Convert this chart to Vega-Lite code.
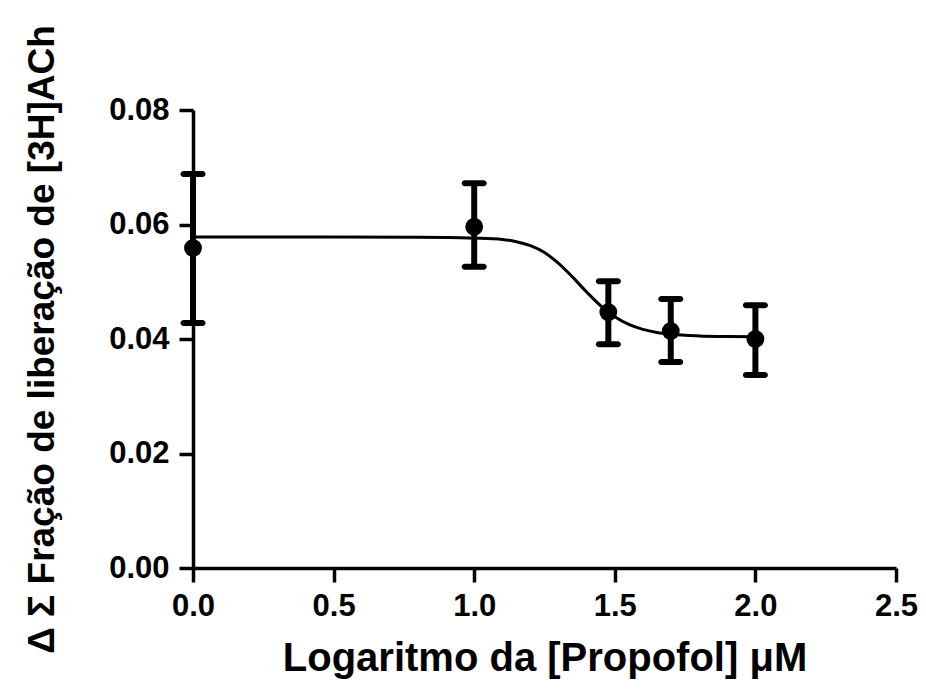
{
  "$schema": "https://vega.github.io/schema/vega-lite/v6.json",
  "width": 703,
  "height": 458,
  "autosize": {"type": "none"},
  "padding": {"left": 193, "top": 110, "right": 30, "bottom": 121},
  "background": "white",
  "config": {
    "view": {"stroke": null},
    "axis": {
      "grid": false,
      "labelFlush": false,
      "domainColor": "black",
      "domainWidth": 3.5,
      "tickColor": "black",
      "tickWidth": 3.5,
      "tickSize": 14,
      "labelFont": "Liberation Sans",
      "labelFontWeight": "bold",
      "labelFontSize": 31,
      "labelColor": "black",
      "titleFont": "Liberation Sans",
      "titleFontWeight": "bold",
      "titleFontSize": 37,
      "titleColor": "black"
    }
  },
  "datasets": {
    "points": [
      {"x": 0.0, "mean": 0.0559, "lo": 0.0428, "hi": 0.0688},
      {"x": 1.0, "mean": 0.0596, "lo": 0.0526, "hi": 0.0672},
      {"x": 1.477, "mean": 0.0447, "lo": 0.0391, "hi": 0.0501},
      {"x": 1.699, "mean": 0.0414, "lo": 0.0360, "hi": 0.0470},
      {"x": 2.0, "mean": 0.0400, "lo": 0.0337, "hi": 0.0459}
    ],
    "curve": [
      {"x": 0.0, "y": 0.0578},
      {"x": 0.5, "y": 0.0578},
      {"x": 0.8, "y": 0.05778},
      {"x": 1.0, "y": 0.05762},
      {"x": 1.1, "y": 0.0574},
      {"x": 1.15, "y": 0.0570},
      {"x": 1.2, "y": 0.0563},
      {"x": 1.25, "y": 0.0551},
      {"x": 1.3, "y": 0.0532},
      {"x": 1.35, "y": 0.0508},
      {"x": 1.4, "y": 0.0482},
      {"x": 1.45, "y": 0.0458},
      {"x": 1.5, "y": 0.0439},
      {"x": 1.55, "y": 0.04255},
      {"x": 1.6, "y": 0.04168},
      {"x": 1.65, "y": 0.04114},
      {"x": 1.7, "y": 0.04083},
      {"x": 1.8, "y": 0.04054},
      {"x": 1.9, "y": 0.04044},
      {"x": 2.0, "y": 0.04041}
    ]
  },
  "layer": [
    {
      "data": {"name": "curve"},
      "mark": {"type": "line", "color": "black", "strokeWidth": 3, "interpolate": "monotone"},
      "encoding": {
        "x": {
          "field": "x", "type": "quantitative",
          "title": "Logaritmo da [Propofol] μM",
          "scale": {"domain": [0, 2.5], "nice": false, "zero": false},
          "axis": {
            "values": [0, 0.5, 1, 1.5, 2, 2.5],
            "format": ".1f",
            "labelPadding": 9,
            "titleFontSize": 40,
            "titleBaseline": "alphabetic",
            "titleY": 102
          }
        },
        "y": {
          "field": "y", "type": "quantitative",
          "title": "Δ Σ Fração de liberação de  [3H]ACh",
          "scale": {"domain": [0, 0.08], "nice": false},
          "axis": {
            "values": [0, 0.02, 0.04, 0.06, 0.08],
            "format": ".2f",
            "labelPadding": 10,
            "titleAngle": -90,
            "titleAlign": "center",
            "titleBaseline": "alphabetic",
            "titleX": -140,
            "titleY": 229
          }
        }
      }
    },
    {
      "data": {"name": "points"},
      "mark": {
        "type": "errorbar",
        "color": "black",
        "thickness": 6,
        "ticks": {"size": 25, "thickness": 6, "color": "black", "opacity": 1, "cornerRadius": 3},
        "rule": {"color": "black", "opacity": 1}
      },
      "encoding": {
        "x": {"field": "x", "type": "quantitative", "title": "Logaritmo da [Propofol] μM"},
        "y": {"field": "lo", "type": "quantitative", "title": "Δ Σ Fração de liberação de  [3H]ACh"},
        "y2": {"field": "hi"}
      }
    },
    {
      "data": {"name": "points"},
      "mark": {"type": "point", "filled": true, "color": "black", "opacity": 1, "size": 320},
      "encoding": {
        "x": {"field": "x", "type": "quantitative", "title": "Logaritmo da [Propofol] μM"},
        "y": {"field": "mean", "type": "quantitative", "title": "Δ Σ Fração de liberação de  [3H]ACh"}
      }
    }
  ]
}
